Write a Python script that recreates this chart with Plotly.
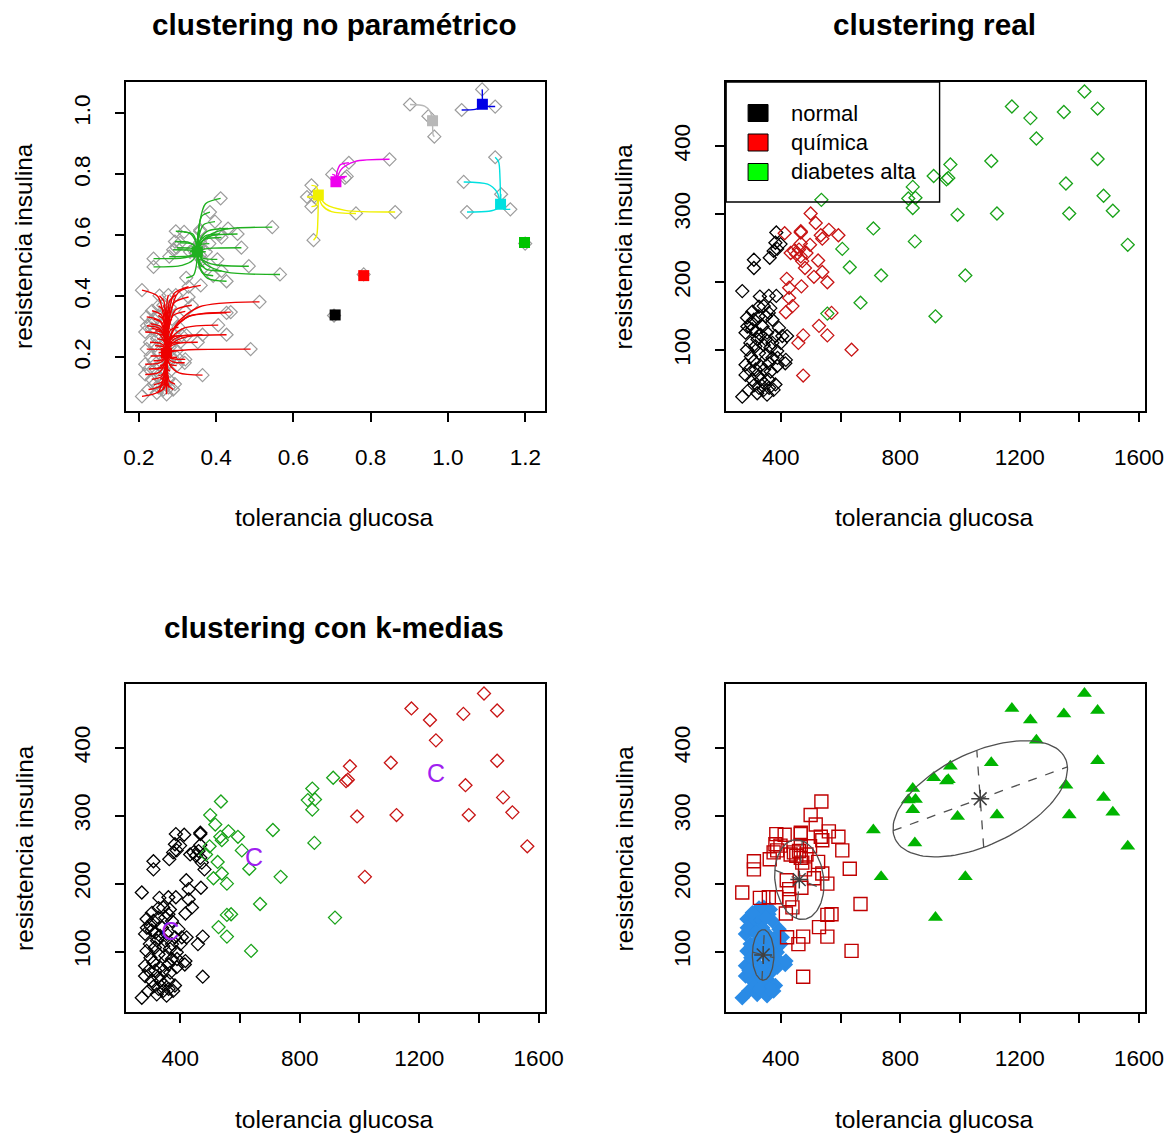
import numpy as np
import plotly.graph_objects as go

W, H = 1173, 1133
W_LAYOUT = 1191
FUENTE = "Liberation Sans, Arial, Helvetica, sans-serif"

# ---------------- datos (tolerancia glucosa, resistencia insulina) -------------
normal_glucosa = [385, 399, 382, 388, 376, 363, 310, 310, 271, 330, 360, 385, 343, 365, 360, 287, 310, 326, 282, 304,
                  332, 354, 382, 421, 287, 315, 343, 365, 388, 282, 310, 332, 360, 388, 415, 282, 304, 326, 343, 360,
                  382, 293, 321, 343, 354, 376, 271, 300, 339, 322, 350, 372, 298, 327, 350, 372, 300, 344, 316, 366,
                  294, 333, 311, 361, 327, 400, 405, 394, 372, 350, 327, 305, 389, 417, 288, 316]
normal_insulina = [273, 256, 258, 249, 246, 236, 233, 221, 187, 179, 180, 180, 165, 162, 155, 148, 145, 150, 126, 131,
                   123, 126, 121, 121, 101, 106, 108, 104, 99, 79, 84, 77, 81, 77, 81, 64, 57, 62, 52, 57,
                   50, 42, 37, 42, 35, 42, 32, 138, 135, 116, 116, 111, 111, 96, 94, 89, 91, 72, 72, 69,
                   72, 57, 49, 45, 45, 111, 121, 133, 145, 150, 164, 157, 89, 86, 135, 128]

quimica_glucosa = [500, 517, 413, 467, 561, 593, 534, 539, 498, 467, 433, 452, 467, 472, 481, 525, 539, 511, 556, 420,
                   428, 469, 428, 439, 417, 570, 528, 556, 475, 459, 637, 475, 444, 461, 486, 467]
quimica_insulina = [301, 287, 272, 273, 277, 269, 269, 264, 255, 257, 243, 241, 238, 231, 221, 232, 215, 208, 200, 205,
                    192, 194, 177, 165, 156, 155, 136, 122, 122, 111, 101, 63, 246, 248, 243, 275]

diabetes_glucosa = [1417, 1174, 1236, 1348, 1461, 1256, 1461, 1105, 968, 912, 955, 961, 842, 827, 851, 842, 1355, 1481,
                    1512, 1366, 1124, 992, 536, 710, 849, 606, 631, 736, 1018, 1562, 667, 918, 556]
diabetes_insulina = [480, 458, 441, 450, 455, 411, 381, 378, 373, 356, 351, 353, 340, 323, 324, 309, 345, 327,
                     305, 301, 301, 299, 321, 279, 260, 249, 222, 210, 210, 255, 170, 150, 154]
# grupo del clustering no paramétrico para los puntos de diabetes alta
diabetes_grupo_np = ['azul', 'gris', 'gris', 'azul', 'azul', 'gris', 'cian', 'magenta', 'magenta', 'magenta',
                     'magenta', 'magenta', 'amarillo', 'amarillo', 'amarillo', 'amarillo', 'cian', 'cian',
                     'cian', 'cian', 'amarillo', 'amarillo', 'verde', 'verde', 'amarillo', 'verde', 'verde', 'verde',
                     's_rojo', 's_verde', 'rojo', 's_negro', 'rojo']

# escala usada en el clustering no paramétrico
escala_glucosa = 1302.0
escala_insulina = 445.0

# modos del clustering no paramétrico (escala reducida)
modo_nombre = ['rojo', 'verde', 'amarillo', 'magenta', 'gris', 'azul', 'cian', 's_negro', 's_rojo', 's_verde']
modo_x = [0.2715, 0.3515, 0.6645, 0.710, 0.960, 1.089, 1.136, 0.708, 0.782, 1.198]
modo_y = [0.213, 0.546, 0.732, 0.776, 0.976, 1.030, 0.702, 0.339, 0.468, 0.577]
modo_color = ['#EE0000', '#1FB01F', '#F0F000', '#EE00EE', '#B8B8B8', '#0000E6', '#00E0E0', '#000000', '#FF0000', '#00C400']

# k-medias: centros leídos
km_centro_glucosa = [366, 647, 1256]
km_centro_insulina = [126, 235, 359]
km_color = ['#000000', '#1AA31A', '#C81414']

# mclust: componentes (centro, semiejes, proporción)
mc_nombre = ['azul', 'rojo', 'verde']
mc_centro_glucosa = [341, 462, 1068]
mc_centro_insulina = [95, 206, 325]
mc_eje1 = [(36, -4), (82, -14), (292, 47)]
mc_eje2 = [(4, 37), (10, 57), (-11.5, 71.5)]
mc_peso = [0.35, 0.42, 0.23]

# ejes
ticks_np_x = [0.2, 0.4, 0.6, 0.8, 1.0, 1.2]
ticks_np_y = [0.2, 0.4, 0.6, 0.8, 1.0]
ticks_glucosa = [400, 600, 800, 1000, 1200, 1400, 1600]
etiquetas_glucosa = ['400', '', '800', '', '1200', '', '1600']
ticks_insulina = [100, 200, 300, 400]

rango_np_x = [0.166, 1.25]
rango_np_y = [0.024, 1.103]
rango_glucosa = [217, 1620]
rango_insulina = [11, 494]

# ---------------------------------------------------------------------------------------------
g_all = np.array(normal_glucosa + quimica_glucosa + diabetes_glucosa, float)
s_all = np.array(normal_insulina + quimica_insulina + diabetes_insulina, float)
grupo_np = ['verde' if s >= 195 else 'rojo' for s in normal_insulina + quimica_insulina] + diabetes_grupo_np

fig = go.Figure()
ns = dict(showlegend=False, hoverinfo='skip')

# ---------------- panel 1: clustering no paramétrico -----------------
xs = g_all / escala_glucosa
ys = s_all / escala_insulina
fig.add_trace(go.Scatter(x=xs, y=ys, mode='markers', xaxis='x', yaxis='y',
                         marker=dict(symbol='diamond-open', size=10, color='#9C9C9C', line=dict(width=1.2)), **ns))
for nombre, mx, my, col in zip(modo_nombre, modo_x, modo_y, modo_color):
    if nombre.startswith('s_'):
        continue
    lx, ly = [], []
    for x, y, gr in zip(xs, ys, grupo_np):
        if gr != nombre:
            continue
        lx += [x, mx + 0.35 * (x - mx), mx + 0.1 * (x - mx), mx, None]
        ly += [y, y + 0.1 * (my - y), y + 0.45 * (my - y), my, None]
    fig.add_trace(go.Scatter(x=lx, y=ly, mode='lines', xaxis='x', yaxis='y',
                             line=dict(color=col, width=1.4, shape='spline', smoothing=0.8), **ns))
fig.add_trace(go.Scatter(x=modo_x, y=modo_y, mode='markers', xaxis='x', yaxis='y',
                         marker=dict(symbol='square', size=11, color=modo_color, line=dict(width=0)), **ns))

# ---------------- panel 2: clustering real -----------------
for gx, sy, col in [(normal_glucosa, normal_insulina, '#000000'),
                    (quimica_glucosa, quimica_insulina, '#C81414'),
                    (diabetes_glucosa, diabetes_insulina, '#1AA31A')]:
    fig.add_trace(go.Scatter(x=gx, y=sy, mode='markers', xaxis='x2', yaxis='y2',
                             marker=dict(symbol='diamond-open', size=10, color=col, line=dict(width=1.3)), **ns))

# ---------------- panel 3: k-medias -----------------
kc = np.array(km_centro_glucosa, float)
ks = np.array(km_centro_insulina, float)
km_lab = np.argmin((g_all[:, None] - kc[None, :]) ** 2 + (s_all[:, None] - ks[None, :]) ** 2, axis=1)
for k in range(3):
    m = km_lab == k
    fig.add_trace(go.Scatter(x=g_all[m], y=s_all[m], mode='markers', xaxis='x3', yaxis='y3',
                             marker=dict(symbol='diamond-open', size=10, color=km_color[k], line=dict(width=1.3)), **ns))
fig.add_trace(go.Scatter(x=km_centro_glucosa, y=km_centro_insulina, mode='text', text=['C', 'C', 'C'],
                         textfont=dict(family=FUENTE, size=25, color='#A020F0'), xaxis='x3', yaxis='y3', **ns))

# ---------------- panel 4: mclust -----------------
logd = []
for k in range(3):
    ux, uy = mc_eje1[k]
    vx, vy = mc_eje2[k]
    dx = g_all - mc_centro_glucosa[k]
    dy = s_all - mc_centro_insulina[k]
    a = (dx * ux + dy * uy) / (ux * ux + uy * uy)
    b = (dx * vx + dy * vy) / (vx * vx + vy * vy)
    logd.append(np.log(mc_peso[k]) - 0.5 * (a * a + b * b) - np.log(np.hypot(ux, uy) * np.hypot(vx, vy)))
mc_lab = np.argmax(np.array(logd), axis=0)

estilos = [dict(symbol='diamond', size=12, color='#2A8BE6', line=dict(width=0)),
           dict(symbol='square-open', size=13, color='#C00000', line=dict(width=1.4)),
           dict(symbol='triangle-up', size=13, color='#00B400', line=dict(width=0))]
for k in range(3):
    m = mc_lab == k
    fig.add_trace(go.Scatter(x=g_all[m], y=s_all[m], mode='markers', xaxis='x4', yaxis='y4',
                             marker=estilos[k], **ns))
t = np.linspace(0, 2 * np.pi, 120)
for k in range(3):
    cx, cy = mc_centro_glucosa[k], mc_centro_insulina[k]
    ux, uy = mc_eje1[k]
    vx, vy = mc_eje2[k]
    ex = cx + ux * np.cos(t) + vx * np.sin(t)
    ey = cy + uy * np.cos(t) + vy * np.sin(t)
    fig.add_trace(go.Scatter(x=ex, y=ey, mode='lines', xaxis='x4', yaxis='y4',
                             line=dict(color='#505050', width=1.3), **ns))
    fig.add_trace(go.Scatter(x=[cx - ux, cx + ux, None, cx - vx, cx + vx],
                             y=[cy - uy, cy + uy, None, cy - vy, cy + vy], mode='lines',
                             xaxis='x4', yaxis='y4', line=dict(color='#505050', width=1.3, dash='dash'), **ns))
fig.add_trace(go.Scatter(x=mc_centro_glucosa, y=mc_centro_insulina, mode='markers', xaxis='x4', yaxis='y4',
                         marker=dict(symbol='asterisk-open', size=15, color='#404040', line=dict(width=1.5, color='#404040')), **ns))

# ---------------- ejes -----------------
def px(x):
    return x / W


def py(y):
    return 1 - y / H


x_izq = [px(124), px(544)]
x_der = [px(726), px(1146)]
y_sup = [py(411), py(82)]
y_inf = [py(1012), py(684)]

base = dict(showline=True, linecolor='black', linewidth=1.5, mirror=True, ticks='outside', ticklen=9,
            tickwidth=1.5, tickcolor='black', showgrid=False, zeroline=False, tickmode='array',
            tickfont=dict(family=FUENTE, size=22.5, color='black'), fixedrange=True, ticklabelstandoff=16)


def eje_x(dom, rango, ancla, vals, texto=None, fmt=None):
    d = dict(base, domain=dom, range=rango, anchor=ancla, tickvals=vals)
    if texto is not None:
        d['ticktext'] = texto
    if fmt:
        d['tickformat'] = fmt
    return d


def eje_y(dom, rango, ancla, vals, fmt=None):
    d = dict(base, domain=dom, range=rango, anchor=ancla, tickvals=vals, tickangle=-90, ticklabelstandoff=16)
    if fmt:
        d['tickformat'] = fmt
    return d


fig.update_layout(
    width=W_LAYOUT, height=H, autosize=False, margin=dict(l=0, r=0, t=0, b=0, pad=0),
    paper_bgcolor='white', plot_bgcolor='white', showlegend=False,
    xaxis=eje_x(x_izq, rango_np_x, 'y', ticks_np_x, fmt='.1f'),
    yaxis=eje_y(y_sup, rango_np_y, 'x', ticks_np_y, fmt='.1f'),
    xaxis2=eje_x(x_der, rango_glucosa, 'y2', ticks_glucosa, etiquetas_glucosa),
    yaxis2=eje_y(y_sup, rango_insulina, 'x2', ticks_insulina),
    xaxis3=eje_x(x_izq, rango_glucosa, 'y3', ticks_glucosa, etiquetas_glucosa),
    yaxis3=eje_y(y_inf, rango_insulina, 'x3', ticks_insulina),
    xaxis4=eje_x(x_der, rango_glucosa, 'y4', ticks_glucosa, etiquetas_glucosa),
    yaxis4=eje_y(y_inf, rango_insulina, 'x4', ticks_insulina),
)

anots = []


def texto(x, y, t, size=24, bold=False, angle=0, xanchor='center'):
    anots.append(dict(x=px(x), y=py(y), xref='paper', yref='paper', text=('<b>%s</b>' % t) if bold else t,
                      showarrow=False, xanchor=xanchor, yanchor='middle', textangle=angle,
                      font=dict(family=FUENTE, size=size, color='black')))


texto(333, 25, 'clustering no paramétrico', 29.7, True)
texto(935, 25, 'clustering real', 29.7, True)
texto(333, 627, 'clustering con k-medias', 29.7, True)
for cx, cy in [(333, 517), (935, 517), (333, 1119), (935, 1119)]:
    texto(cx, cy, 'tolerancia glucosa', 24.6)
for cx, cy in [(22, 246), (624, 246), (22, 848), (624, 848)]:
    texto(cx, cy, 'resistencia insulina', 24.3, angle=-90)

# leyenda del panel "clustering real"
leyenda_texto = ['normal', 'química', 'diabetes alta']
leyenda_color = ['#000000', '#FF0000', '#00FF00']
formas = [dict(type='rect', xref='paper', yref='paper', x0=px(726), x1=px(940), y0=py(202), y1=py(82),
               line=dict(color='black', width=1.4), fillcolor='rgba(0,0,0,0)')]
for i, (tx, col) in enumerate(zip(leyenda_texto, leyenda_color)):
    yc = 113 + 29.5 * i
    formas.append(dict(type='rect', xref='paper', yref='paper', x0=px(748), x1=px(768), y0=py(yc + 8.5),
                       y1=py(yc - 8.5), line=dict(color='black', width=1), fillcolor=col))
    texto(789, yc, tx, 22, xanchor='left')

fig.update_layout(annotations=anots, shapes=formas)

ajuste = (
    "document.documentElement.style.overflow='hidden';"
    "document.documentElement.style.margin='0';"
    "document.body.style.margin='0';document.body.style.padding='0';document.body.style.overflow='hidden';"
)
fig.write_html("out.html", config={'responsive': False}, post_script=ajuste)
